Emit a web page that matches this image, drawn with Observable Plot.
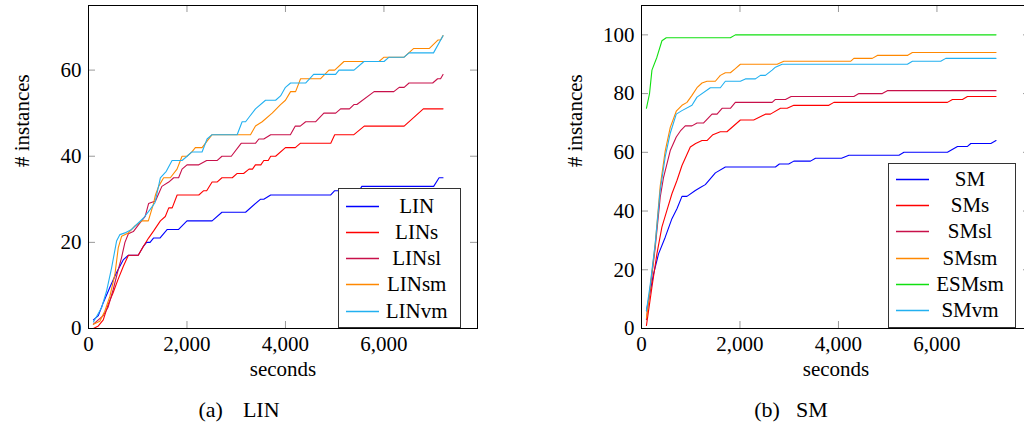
<!DOCTYPE html>
<html><head><meta charset="utf-8">
<script src="https://cdn.jsdelivr.net/npm/d3@7"></script>
<script src="https://cdn.jsdelivr.net/npm/@observablehq/plot@0.6"></script>
<style>
html,body{margin:0;padding:0;background:#fff;overflow:hidden;}
#root{position:relative;width:1024px;height:427px;overflow:hidden;font-family:'Liberation Serif','DejaVu Serif',serif;color:#000;background:#fff;}
.panel{position:absolute;top:0;width:512px;height:395px;}
.legend{position:absolute;box-sizing:border-box;border:1px solid #333;background:#fff;}
.legend svg{position:absolute;left:0;top:0;}
.legend .lb{position:absolute;transform:translate(-50%,-50%);font-size:21px;white-space:nowrap;line-height:1;}
.caption{position:absolute;font-size:22px;transform:translate(-50%,-50%);white-space:nowrap;line-height:1;}
</style></head><body><div id="root"></div>
<script>
// ---------- data (seconds, # instances) ----------
const xTicks = [0, 2000, 4000, 6000];
const leftYTicks = [0, 20, 40, 60];
const rightYTicks = [0, 20, 40, 60, 80, 100];

const leftNames = ["LIN", "LINs", "LINsl", "LINsm", "LINvm"];
const rightNames = ["SM", "SMs", "SMsl", "SMsm", "ESMsm", "SMvm"];

const LIN = [[100,2],[200,3],[300,6],[450,10],[570,13],[710,16],[810,17],[1010,17],[1110,19],[1180,20],[1250,20],[1320,21],[1450,21],[1600,23],[1830,23],[2000,25],[2510,25],[2710,27],[3190,27],[3490,30],[3560,30],[3700,31],[4920,31],[5000,32],[5500,32],[5550,33],[7010,33],[7120,35],[7200,35]];
const LINs = [[100,0],[200,0.6],[300,2],[400,5.6],[500,8.3],[600,11.4],[710,14.5],[810,17],[1010,17],[1110,19],[1220,21],[1320,22.6],[1460,25],[1560,26],[1630,28],[1700,28],[1800,31],[2240,31],[2340,32],[2400,32],[2510,34],[2610,34],[2710,35],[2920,35],[3020,36],[3150,36],[3260,37],[3330,37],[3390,38],[3500,38],[3560,39],[3650,39],[3700,40],[3800,40],[4000,42],[4200,42],[4300,43],[4920,43],[5000,45],[5390,45],[5600,47],[6410,47],[6800,51],[7200,51]];
const LINsl = [[100,1],[300,3],[400,5],[500,9],[600,13.5],[670,16.4],[740,20],[810,22],[910,22.5],[1010,24],[1150,26],[1220,29],[1360,29.6],[1490,33],[1630,34],[1730,35],[1830,35],[1900,37],[2000,38],[2240,38],[2400,39],[2610,39],[2710,40],[2900,40],[3100,43],[3390,43],[3460,44],[3560,44],[3700,45],[4100,45],[4200,47],[4300,47],[4410,48],[4610,48],[4780,50],[5020,50],[5120,51],[5300,51],[5390,52],[5450,52],[5800,55],[6200,55],[6310,56],[6410,56],[6510,57],[6990,57],[7090,58],[7150,58],[7200,59]];
const LINsm = [[100,1],[230,1.7],[330,4],[435,7.5],[537,12.6],[604,18.7],[672,21.4],[808,22.2],[943,23.8],[1080,25],[1215,25],[1320,29],[1360,31],[1424,33],[1526,35],[1662,35],[1798,37],[1866,39],[1900,40],[2000,40],[2100,41],[2170,42],[2306,42],[2510,45],[3290,45],[3391,47],[3527,48],[3730,50],[3900,52],[4000,53],[4104,55],[4206,55],[4307,58],[4714,58],[4884,60],[5000,60],[5188,62],[5900,62],[6002,63],[6409,63],[6600,65],[6918,65],[7100,67],[7150,67],[7200,68]];
const LINvm = [[100,1.5],[265,4.8],[367,8.7],[468,14],[570,20.3],[638,21.8],[740,22.2],[875,23],[1011,24.5],[1113,25.6],[1249,27.6],[1350,29.2],[1459,35],[1580,36.5],[1697,39],[1900,39],[2002,40],[2100,41],[2306,41],[2408,44],[2510,45],[3019,45],[3120,48],[3190,48],[3256,49],[3391,51],[3595,53],[3800,53],[3900,54],[4000,56],[4104,57],[4409,57],[4572,59],[5019,59],[5087,60],[5392,60],[5595,62],[6002,62],[6104,63],[6409,63],[6511,64],[7007,64],[7200,68]];

const SM = [[100,6],[245,18.6],[346,25.4],[482,31.1],[618,37.4],[720,40.8],[822,45],[923,45],[1093,47],[1194,48],[1296,49],[1500,53],[1703,55],[2720,55],[2800,56],[2990,56],[3093,57],[3432,57],[3533,58],[4062,58],[4212,59],[5229,59],[5330,60],[6213,60],[6417,62],[6620,62],[6688,63],[7095,63],[7200,64]];
const SMs = [[100,1],[211,14],[313,25.4],[414,34.5],[516,40.2],[618,45.9],[720,50.4],[822,55.5],[991,61.8],[1100,63],[1229,64],[1330,64],[1450,66],[1601,67],[1735,67],[2008,71],[2279,71],[2516,73],[2618,73],[2822,75],[2958,75],[3093,76],[3805,76],[3907,77],[6213,77],[6315,78],[6518,78],[6620,79],[7200,79]];
const SMsl = [[100,3],[279,27.6],[380,44.7],[448,51.5],[584,60.6],[706,65.2],[800,67.5],[889,69],[1025,69],[1127,70],[1262,70],[1432,73],[1534,73],[1636,75],[1805,75],[1906,77],[2653,77],[2720,78],[2924,78],[3039,79],[4313,79],[4415,80],[4890,80],[4992,81],[7200,81]];
const SMsm = [[100,3.5],[177,14],[279,28.8],[380,48.5],[482,60.5],[584,68.5],[706,74],[822,76],[924,77],[1025,79.4],[1127,82],[1229,83.6],[1330,84.2],[1500,84.2],[1601,86.2],[1703,87.1],[1805,87.1],[1906,88.5],[2008,90],[2755,90],[2890,91],[4246,91],[4313,92],[4687,92],[4789,93],[5400,93],[5501,94],[7200,94]];
const ESMsm = [[100,75],[163,80],[212,88],[313,92.4],[415,98],[503,99],[1805,99],[1906,100],[7200,100]];
const SMvm = [[100,6],[177,15],[279,29],[380,47],[482,58.5],[584,66.5],[706,73],[821,74.2],[1025,76],[1127,78.8],[1398,82],[1601,82],[1703,84.2],[2008,84.2],[2110,85],[2313,85],[2415,86.2],[2516,86.2],[2653,88],[2720,89],[2856,90],[5400,90],[5501,91],[6077,91],[6179,92],[7200,92]];

// ---------- styles ----------
const leftColors = ["#0000ff", "#ff0000", "#c8104a", "#ff8800", "#22b0f0"];
const rightColors = ["#0000ff", "#ff0000", "#c8104a", "#ff8800", "#10e010", "#22b0f0"];
const FONT = "'Liberation Serif','DejaVu Serif',serif";
const X_MAX = 7900;

const root = document.getElementById("root");

function panel({series, names, colors, yMax, yTicks, left}) {
  const table = names.flatMap((name, i) => series[i].map(([t, n]) => ({t, n, s: name})));
  const W = 512, H = 395, mL = 88, mR = 35, mT = 5, mB = 67;
  const fw = W - mL - mR, fh = H - mT - mB;
  const svg = Plot.plot({
    width: W, height: H,
    marginLeft: mL, marginRight: mR, marginTop: mT, marginBottom: mB,
    style: {fontFamily: FONT, fontSize: "21px", background: "transparent", color: "#000"},
    x: {domain: [0, X_MAX], ticks: xTicks, tickFormat: d3.format(","), tickSize: 0, tickPadding: 8, label: null},
    y: {domain: [0, yMax], ticks: yTicks, tickFormat: d3.format(","), tickSize: 0, tickPadding: 7, label: null},
    color: {domain: names, range: colors},
    marks: [
      Plot.line(table, {x: "t", y: "n", z: "s", stroke: "s", strokeWidth: 1.1}),
      Plot.tickX(xTicks, {x: d => d, insetTop: fh - 7, stroke: "#999"}),
      Plot.tickX(xTicks, {x: d => d, insetBottom: fh - 7, stroke: "#999"}),
      Plot.tickY(yTicks, {y: d => d, insetRight: fw - 7, stroke: "#999"}),
      Plot.tickY(yTicks, {y: d => d, insetLeft: fw - 7, stroke: "#999"}),
      Plot.frame({stroke: "#000", strokeWidth: 1}),
      Plot.text(["seconds"], {text: d => d, frameAnchor: "bottom", dy: 47}),
      Plot.text(["# instances"], {text: d => d, frameAnchor: "left", dx: -66, rotate: -90})
    ]
  });
  const div = document.createElement("div");
  div.className = "panel";
  div.style.left = left + "px";
  div.appendChild(svg);
  root.appendChild(div);
}

function legend(names, colors, box, firstRow, step, textX) {
  const lg = document.createElement("div");
  lg.className = "legend";
  Object.assign(lg.style, {left: box.left + "px", top: box.top + "px", width: box.width + "px", height: box.height + "px"});
  const ns = "http://www.w3.org/2000/svg";
  const sv = document.createElementNS(ns, "svg");
  sv.setAttribute("width", box.width - 2);
  sv.setAttribute("height", box.height - 2);
  names.forEach((name, i) => {
    const cy = Math.round(firstRow + i * step) + 0.5;
    const ln = document.createElementNS(ns, "line");
    ln.setAttribute("x1", 7); ln.setAttribute("x2", 40);
    ln.setAttribute("y1", cy); ln.setAttribute("y2", cy);
    ln.setAttribute("stroke", colors[i]);
    ln.setAttribute("stroke-width", 1.3);
    sv.appendChild(ln);
    const lb = document.createElement("div");
    lb.className = "lb";
    lb.textContent = name;
    lb.style.left = textX + "px";
    lb.style.top = (firstRow + i * step) + "px";
    lg.appendChild(lb);
  });
  lg.insertBefore(sv, lg.firstChild);
  root.appendChild(lg);
}

function caption(text, cx, cy, ws) {
  const c = document.createElement("div");
  c.className = "caption";
  c.textContent = text;
  Object.assign(c.style, {left: cx + "px", top: cy + "px", wordSpacing: ws + "px"});
  root.appendChild(c);
}

panel({series: [LIN, LINs, LINsl, LINsm, LINvm], names: leftNames, colors: leftColors, yMax: 75, yTicks: leftYTicks, left: 0});
panel({series: [SM, SMs, SMsl, SMsm, ESMsm, SMvm], names: rightNames, colors: rightColors, yMax: 110, yTicks: rightYTicks, left: 553});

legend(leftNames, leftColors, {left: 338, top: 188, width: 123, height: 140}, 16.7, 26.25, 77.7);
legend(rightNames, rightColors, {left: 888, top: 163, width: 128, height: 165}, 15, 26.2, 81);

caption("(a) LIN", 239, 410, 14.5);
caption("(b) SM", 791, 410, 10.5);
</script></body></html>
